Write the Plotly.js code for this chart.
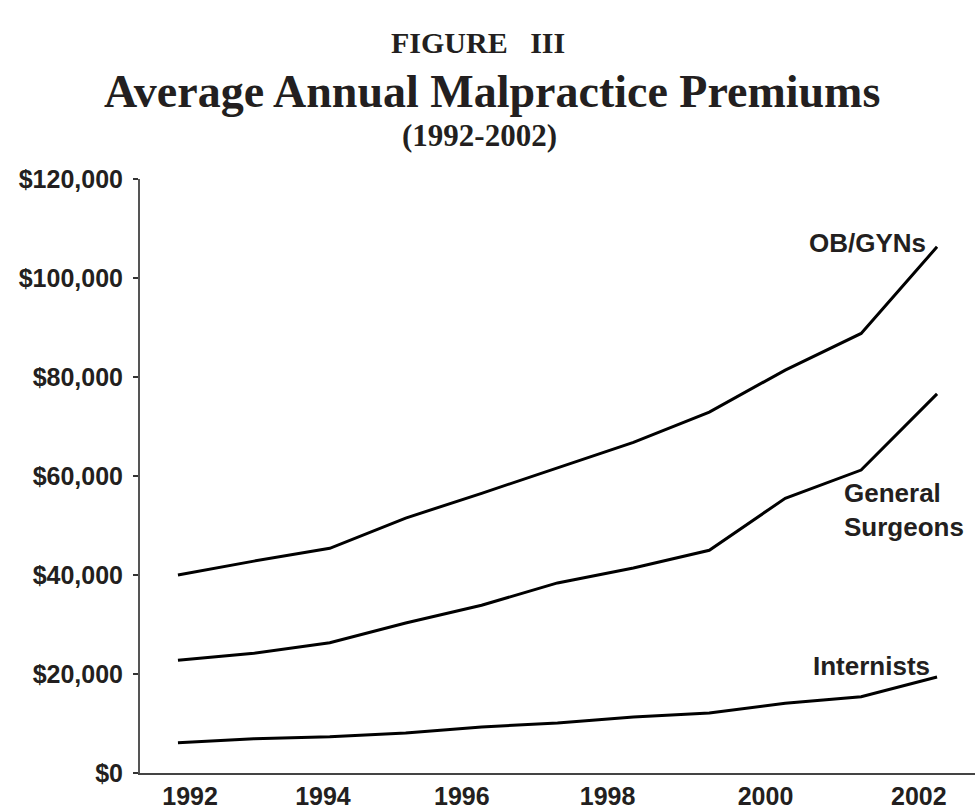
<!DOCTYPE html>
<html>
<head>
<meta charset="utf-8">
<script src="https://cdn.plot.ly/plotly-3.0.1.min.js"></script>
<style>html,body{margin:0;padding:0;background:#fff;}#chart{width:978px;height:809px;}</style>
</head>
<body>
<div id="chart"></div>
<script>
// ---- data ----
const years = [1992, 1993, 1994, 1995, 1996, 1997, 1998, 1999, 2000, 2001, 2002];
const obgyn = [40000, 42800, 45400, 51500, 56500, 61600, 66800, 72900, 81400, 88800, 106300];
const surgeons = [22800, 24200, 26300, 30300, 33900, 38400, 41400, 45000, 55500, 61200, 76600];
const internists = [6100, 6900, 7300, 8100, 9300, 10100, 11300, 12100, 14100, 15400, 19400];
const seriesNames = ["OB/GYNs", "General<br>Surgeons", "Internists"];
const xTickText = ["1992", "1994", "1996", "1998", "2000", "2002"];
const yTickVals = [0, 20000, 40000, 60000, 80000, 100000, 120000];
const yTickText = ["$0", "$20,000", "$40,000", "$60,000", "$80,000", "$100,000", "$120,000"];

// ---- layout-only positions ----
const xTickPos = [1992.16, 1993.91, 1995.74, 1997.66, 1999.74, 2001.76];
const labelPos = [[2001.08, 107100], [2001.57, 53100], [2001.14, 21600]];

const ink = "#231f20";
const sans = "Liberation Sans, Arial, sans-serif";
const serif = "Liberation Serif, Times New Roman, serif";

const lineStyle = {color: "#000", width: 3};
const traces = [obgyn, surgeons, internists].map((vals, i) => ({
  x: years, y: vals, type: "scatter", mode: "lines",
  line: lineStyle, name: seriesNames[i], hoverinfo: "skip"
}));

const annotations = seriesNames.map((t, i) => ({
  x: labelPos[i][0], y: labelPos[i][1], xref: "x", yref: "y",
  xanchor: "center", yanchor: "middle",
  text: t, showarrow: false, align: "left",
  font: {family: sans, size: 26, color: ink, weight: "bold"}
}));
annotations.push(
  {x: 0.405, y: 1.2306, xref: "paper", yref: "paper", xanchor: "center", yanchor: "middle",
   text: "FIGURE&nbsp;&nbsp;&nbsp;III", showarrow: false,
   font: {family: serif, size: 30, color: ink, weight: "bold"}},
  {x: 0.4216, y: 1.148, xref: "paper", yref: "paper", xanchor: "center", yanchor: "middle",
   text: "Average Annual Malpractice Premiums", showarrow: false,
   font: {family: serif, size: 46, color: ink, weight: "bold"}},
  {x: 0.406, y: 1.074, xref: "paper", yref: "paper", xanchor: "center", yanchor: "middle",
   text: "(1992-2002)", showarrow: false,
   font: {family: serif, size: 31, color: ink, weight: "bold"}}
);

const layout = {
  width: 978, height: 809,
  margin: {l: 140, r: 3, t: 179, b: 36, pad: 0},
  paper_bgcolor: "#fff", plot_bgcolor: "#fff",
  showlegend: false,
  xaxis: {
    range: [1991.5, 2002.5], showgrid: false, zeroline: false,
    showline: true, linecolor: "#444", linewidth: 2,
    ticks: "", tickvals: xTickPos, ticktext: xTickText,
    tickfont: {family: sans, size: 25, color: ink, weight: "bold"},
    ticklabelstandoff: 0, automargin: false
  },
  yaxis: {
    range: [0, 120000], showgrid: false, zeroline: false,
    showline: true, linecolor: "#555", linewidth: 2,
    ticks: "outside", ticklen: 5, tickwidth: 1.5, tickcolor: "#333",
    tickvals: yTickVals, ticktext: yTickText,
    tickfont: {family: sans, size: 25, color: ink, weight: "bold"},
    ticklabelstandoff: 5, automargin: false
  },
  annotations: annotations
};

Plotly.newPlot("chart", traces, layout, {staticPlot: true, displayModeBar: false});
</script>
</body>
</html>
